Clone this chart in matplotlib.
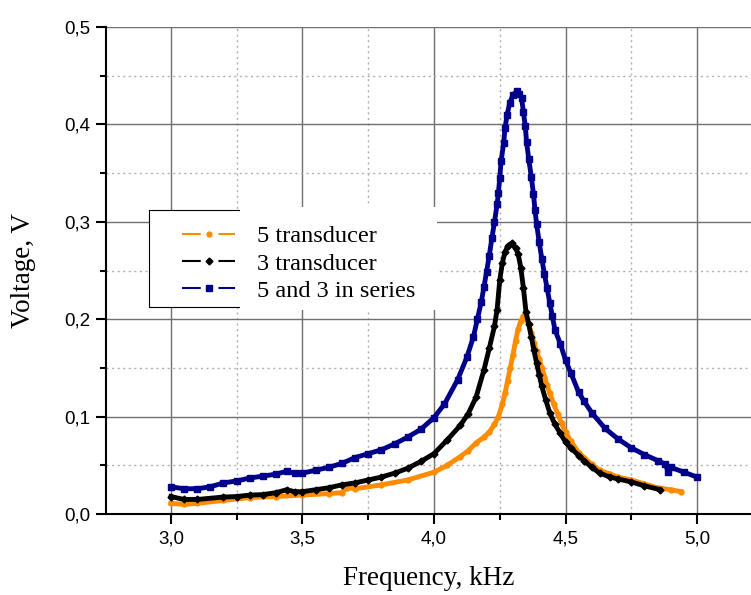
import matplotlib.pyplot as plt
from matplotlib.lines import Line2D
from matplotlib.patches import Rectangle
from matplotlib.ticker import MultipleLocator, FuncFormatter

# 5 transducer
f5 = [3.00, 3.05, 3.10, 3.20, 3.30, 3.40, 3.50, 3.60, 3.65, 3.67, 3.70, 3.80, 3.90,
      4.00, 4.05, 4.10, 4.13, 4.16, 4.19, 4.21, 4.23, 4.245, 4.26, 4.27, 4.28, 4.29,
      4.30, 4.31, 4.32, 4.33, 4.34, 4.35, 4.36, 4.37, 4.38, 4.39, 4.40, 4.41, 4.42,
      4.43, 4.44, 4.455, 4.47, 4.485, 4.50, 4.52, 4.55, 4.57, 4.60, 4.63, 4.67, 4.70,
      4.75, 4.80, 4.85, 4.90, 4.94]
v5 = [0.011, 0.010, 0.011, 0.014, 0.017, 0.018, 0.0195, 0.021, 0.022, 0.027, 0.026,
      0.030, 0.035, 0.043, 0.050, 0.059, 0.065, 0.073, 0.079, 0.084, 0.092, 0.100,
      0.113, 0.124, 0.137, 0.150, 0.163, 0.178, 0.190, 0.198, 0.203, 0.201, 0.195,
      0.186, 0.176, 0.167, 0.159, 0.150, 0.141, 0.132, 0.124, 0.113, 0.103, 0.093,
      0.084, 0.075, 0.063, 0.058, 0.051, 0.045, 0.041, 0.038, 0.035, 0.031, 0.027,
      0.025, 0.023]

# 3 transducer
f3 = [3.00, 3.05, 3.10, 3.20, 3.25, 3.30, 3.35, 3.40, 3.44, 3.47, 3.50, 3.55, 3.60,
      3.65, 3.70, 3.75, 3.80, 3.85, 3.90, 3.95, 4.00, 4.05, 4.10, 4.13, 4.16, 4.19,
      4.21, 4.23, 4.24, 4.25, 4.26, 4.27, 4.28, 4.295, 4.31, 4.32, 4.33, 4.34, 4.35,
      4.36, 4.37, 4.38, 4.39, 4.40, 4.41, 4.425, 4.44, 4.46, 4.48, 4.50, 4.52, 4.55,
      4.57, 4.60, 4.63, 4.67, 4.70, 4.75, 4.80, 4.86]
v3 = [0.018, 0.015, 0.015, 0.0175, 0.018, 0.0195, 0.020, 0.022, 0.025, 0.023, 0.023,
      0.025, 0.027, 0.030, 0.032, 0.035, 0.038, 0.042, 0.047, 0.054, 0.062, 0.076,
      0.091, 0.103, 0.120, 0.148, 0.170, 0.193, 0.210, 0.240, 0.258, 0.269, 0.275,
      0.278, 0.273, 0.267, 0.253, 0.232, 0.207, 0.195, 0.182, 0.168, 0.155, 0.143,
      0.131, 0.117, 0.104, 0.092, 0.083, 0.074, 0.068, 0.060, 0.055, 0.048, 0.042,
      0.038, 0.036, 0.033, 0.029, 0.025]

# 5 and 3 in series
fs = [3.00, 3.05, 3.10, 3.15, 3.20, 3.25, 3.30, 3.35, 3.40, 3.44, 3.47, 3.50, 3.55,
      3.60, 3.65, 3.70, 3.75, 3.80, 3.85, 3.90, 3.95, 4.00, 4.04, 4.09, 4.125, 4.15,
      4.165, 4.18, 4.19, 4.20, 4.21, 4.22, 4.23, 4.24, 4.245, 4.25, 4.255, 4.265,
      4.27, 4.278, 4.288, 4.30, 4.314, 4.325, 4.333, 4.34, 4.347, 4.352, 4.36, 4.37,
      4.378, 4.384, 4.39, 4.40, 4.41, 4.42, 4.43, 4.44, 4.45, 4.46, 4.48, 4.50, 4.52,
      4.55, 4.57, 4.60, 4.65, 4.70, 4.75, 4.80, 4.85, 4.88, 4.89, 4.90, 4.95, 5.00]
vs = [0.028, 0.026, 0.026, 0.028, 0.032, 0.034, 0.037, 0.039, 0.041, 0.044, 0.042,
      0.042, 0.045, 0.048, 0.052, 0.058, 0.062, 0.066, 0.072, 0.079, 0.087, 0.099,
      0.113, 0.138, 0.161, 0.182, 0.200, 0.218, 0.233, 0.249, 0.265, 0.283, 0.300,
      0.318, 0.330, 0.345, 0.362, 0.381, 0.396, 0.410, 0.422, 0.430, 0.434, 0.431,
      0.427, 0.413, 0.398, 0.382, 0.365, 0.346, 0.329, 0.312, 0.298, 0.279, 0.262,
      0.246, 0.232, 0.217, 0.203, 0.189, 0.175, 0.158, 0.145, 0.125, 0.116, 0.104,
      0.088, 0.077, 0.068, 0.061, 0.055, 0.051, 0.043, 0.048, 0.043, 0.038]

series = [
    (f5, v5, '#ff8c00', 'o', 3.5, '5 transducer'),
    (f3, v3, '#000000', 'D', 3.5, '3 transducer'),
    (fs, vs, '#00008b', 's', 4.5, '5 and 3 in series'),
]

fig = plt.figure(figsize=(7.51, 5.95), dpi=100)
ax = fig.add_axes([0.141, 0.136, 0.859, 0.8186])

handles = []
for f, v, c, m, ms, lab in series:
    ax.plot(f, v, color=c, lw=3.5, marker=m, ms=ms, zorder=3)
    handles.append(Line2D([], [], color=c, lw=1.5, marker=m, ms=ms,
                          dashes=(9, 8.5)))

ax.set_xlim(2.753, 5.205)
ax.set_ylim(0.0, 0.5)
ax.xaxis.set_major_locator(MultipleLocator(0.5))
ax.xaxis.set_minor_locator(MultipleLocator(0.25))
ax.yaxis.set_major_locator(MultipleLocator(0.1))
ax.yaxis.set_minor_locator(MultipleLocator(0.05))
ax.xaxis.set_major_formatter(FuncFormatter(lambda x, p: f'{x:.1f}'.replace('.', ',')))
ax.yaxis.set_major_formatter(FuncFormatter(lambda y, p: f'{y:.1f}'.replace('.', ',')))

ax.grid(which='major', color='#707070', lw=1.0, zorder=0)
ax.grid(which='minor', color='#b0b0b0', lw=1.0, ls=(0, (1.5, 2.5)), zorder=0)
ax.set_axisbelow(True)

for s in ['top', 'right']:
    ax.spines[s].set_visible(False)
for s in ['left', 'bottom']:
    ax.spines[s].set_linewidth(1.5)
ax.tick_params(which='major', direction='out', length=7.5, width=1.5,
               labelsize=13.5, pad=4)
ax.tick_params(which='minor', direction='out', length=4.5, width=1.5)
for lbl in ax.get_xticklabels() + ax.get_yticklabels():
    lbl.set_family('Liberation Sans')

ax.set_xlabel('Frequency, kHz', family='Liberation Serif', fontsize=19.5, labelpad=14)
ax.set_ylabel('Voltage, V', family='Liberation Serif', fontsize=19.5, labelpad=20)

# legend box: framed handle part, borderless white text part (as in the original)
ax.add_patch(Rectangle((0.0667, 0.4251), 0.1488, 0.1991, transform=ax.transAxes,
                       facecolor='white', edgecolor='black', lw=0.8, zorder=4))
ax.add_patch(Rectangle((0.2078, 0.4189), 0.3054, 0.2115, transform=ax.transAxes,
                       facecolor='white', edgecolor='none', zorder=4))

leg = ax.legend(handles, [s[5] for s in series], loc='upper left',
                bbox_to_anchor=(0.1178, 0.593), prop={'family': 'Liberation Serif', 'size': 17.5},
                frameon=False, handlelength=2.2, borderpad=0, labelspacing=0.22,
                handletextpad=0.9, borderaxespad=0)
leg.set_zorder(5)

fig.savefig('out.png', dpi=100)
